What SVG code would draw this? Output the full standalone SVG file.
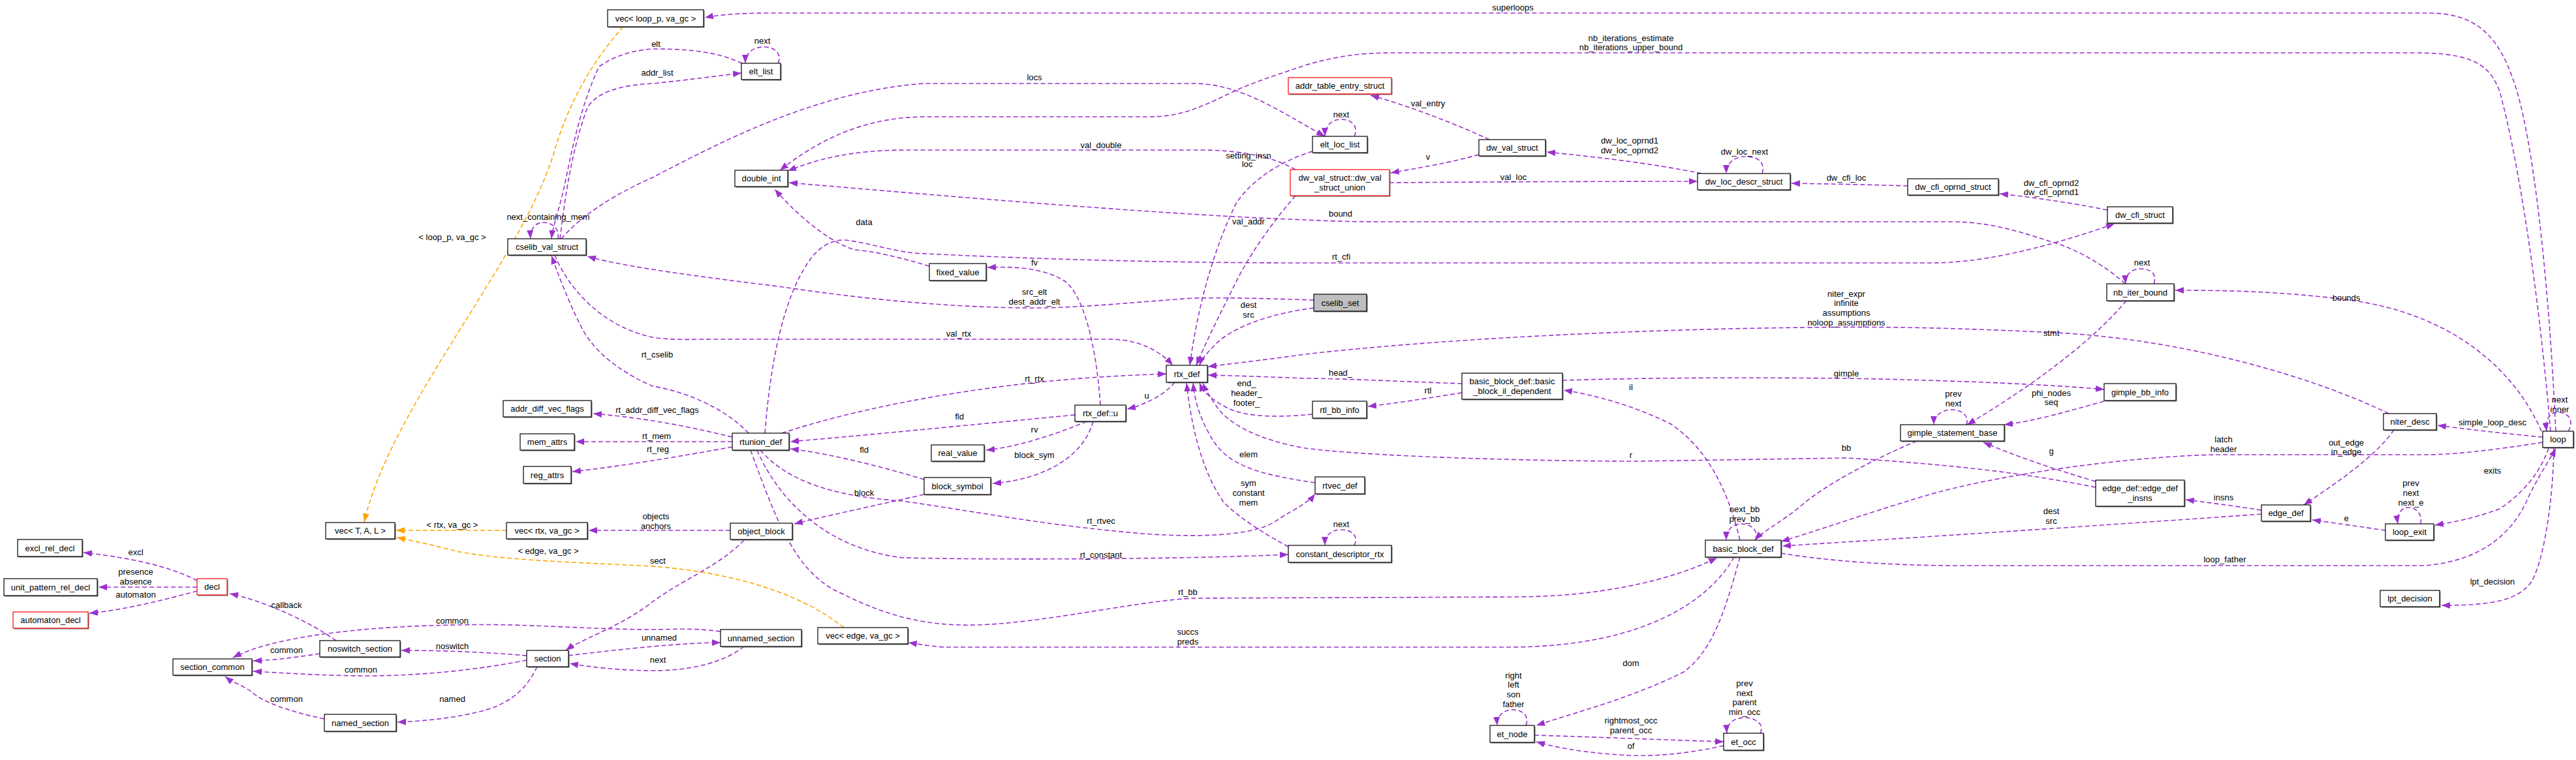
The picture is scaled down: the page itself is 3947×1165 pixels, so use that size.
<svg xmlns="http://www.w3.org/2000/svg" width="3947" height="1165" viewBox="0 0 3947 1165">
<defs>
<marker id="ap" markerUnits="userSpaceOnUse" markerWidth="14" markerHeight="10" refX="13" refY="5" orient="auto"><path d="M0,0 L13,5 L0,10 z" fill="#9a32cd" stroke="none"/></marker>
<marker id="ao" markerUnits="userSpaceOnUse" markerWidth="14" markerHeight="10" refX="13" refY="5" orient="auto"><path d="M0,0 L13,5 L0,10 z" fill="#ffa500" stroke="none"/></marker>
<style>
.s{fill:#707070;stroke:none}
.b{fill:#fff;stroke:#000;stroke-width:1.2}
.r{fill:#fff;stroke:#ff0000;stroke-width:1.2}
.g{fill:#bfbfbf;stroke:#000;stroke-width:1.2}
text{font-family:"Liberation Sans",Arial,sans-serif;font-size:13px;text-anchor:middle;fill:#000}
.e path{fill:none;stroke:#9a32cd;stroke-width:1.6;stroke-dasharray:7,4;marker-end:url(#ap)}
.e path.o{stroke:#ffa500;marker-end:url(#ao)}
</style>
</defs>
<rect width="3947" height="1165" fill="#fff"/>

<g id="connectors" class="e">
<path d="M3916,661 C3905,420 3880,200 3850,120 C3825,50 3790,20 3720,20 L1180,20 C1130,20 1100,23 1080,27"/>
<path d="M3908,661 C3890,450 3860,250 3830,140 C3815,100 3790,81 3700,81 L2130,81 C2080,81 2040,88 2000,100 C1940,120 1910,130 1880,145 C1830,170 1800,179 1760,179 L1420,179 C1330,179 1260,210 1195,261"/>
<path d="M860,366 C900,320 960,290 1000,272 C1100,220 1250,140 1415,128 L1829,128 C1900,128 1960,170 2030,209"/>
<path d="M1137,97 C1100,80 1060,75 1000,75 C960,78 935,90 918,102 C895,150 880,210 868,270 C858,320 847,345 845,366"/>
<path d="M858,366 C866,300 876,230 900,165 C915,140 955,130 1000,128 C1060,122 1100,116 1136,112"/>
<path d="M855,366 C858,350 845,341 832,341 C820,341 812,352 813,366"/>
<path d="M1192,97 C1198,85 1190,72 1170,72 C1150,72 1142,85 1142,97"/>
<path d="M2075,209 C2082,195 2072,183 2055,183 C2038,183 2030,195 2030,209"/>
<path d="M1985,260 C1950,240 1900,230 1840,230 L1390,230 C1300,230 1250,245 1207,262"/>
<path d="M2282,214 C2220,185 2150,160 2100,146"/>
<path d="M2266,237 C2220,250 2170,258 2131,265"/>
<path d="M2129,280 C2250,279 2450,278 2601,278"/>
<path d="M2607,266 C2530,250 2440,240 2370,233"/>
<path d="M2700,266 C2705,250 2695,240 2675,240 C2655,240 2645,252 2645,266"/>
<path d="M2923,285 C2870,283 2800,282 2745,281"/>
<path d="M3229,322 C3170,310 3110,302 3064,297"/>
<path d="M1172,664 C1180,560 1200,450 1245,393 C1260,375 1278,367 1295,368 C1330,372 1360,383 1400,388 C1600,398 1800,403 2000,403 L2960,403 C3030,403 3120,385 3240,343"/>
<path d="M3256,435 C3230,410 3180,380 3141,370 C3080,350 3040,340 2990,340 L2130,340 C2060,340 2020,338 2000,337 C1800,330 1500,305 1209,280"/>
<path d="M1424,408 C1380,395 1340,385 1310,383 C1280,375 1230,340 1187,290"/>
<path d="M2013,460 C1950,458 1900,456 1829,457 C1750,462 1680,470 1600,472 C1450,473 1300,455 1200,440 C1080,425 960,410 900,393"/>
<path d="M2013,472 C1950,480 1890,500 1862,528 C1850,541 1841,550 1838,560"/>
<path d="M850,391 C870,440 920,500 1000,517 C1030,522 1060,520 1100,520 L1700,520 C1740,520 1775,535 1797,560"/>
<path d="M1147,664 C1110,625 1050,600 1000,592 C950,570 910,540 890,500 C870,460 855,420 845,392"/>
<path d="M2011,232 C1960,248 1920,275 1895,310 C1860,380 1835,470 1823,560"/>
<path d="M1985,300 C1950,340 1915,390 1895,430 C1870,480 1845,530 1833,560"/>
<path d="M1198,664 C1300,630 1450,600 1600,585 C1680,577 1740,575 1787,573"/>
<path d="M1800,586 C1785,605 1755,620 1727,627"/>
<path d="M3660,634 C3550,580 3350,520 3150,510 C3000,503 2900,500 2765,502 C2500,505 2200,520 2000,543 C1950,550 1900,556 1851,562"/>
<path d="M2240,588 C2150,585 2050,580 2000,580 C1950,578 1900,576 1851,575"/>
<path d="M2011,635 C1960,640 1910,640 1880,625 C1855,612 1843,600 1838,587"/>
<path d="M2015,740 C1950,730 1890,720 1862,680 C1842,650 1831,620 1828,587"/>
<path d="M3211,747 C3100,725 3000,713 2830,702 L2510,707 C2350,707 2100,700 2000,687 C1930,675 1880,650 1862,620 C1852,605 1846,595 1843,587"/>
<path d="M1974,838 C1940,820 1900,795 1875,770 C1840,720 1825,650 1818,587"/>
<path d="M1647,636 C1500,650 1350,665 1211,677"/>
<path d="M1665,646 C1620,665 1560,685 1511,690"/>
<path d="M1675,646 C1660,700 1600,735 1521,741"/>
<path d="M1686,621 C1680,530 1660,450 1630,430 C1600,412 1560,408 1513,410"/>
<path d="M1416,735 C1350,715 1270,695 1211,688"/>
<path d="M1416,758 C1340,775 1270,790 1217,803"/>
<path d="M1165,690 C1200,730 1260,760 1383,768 C1500,785 1600,805 1750,818 C1850,825 1930,820 1960,795 C1985,780 2005,770 2015,757"/>
<path d="M1160,690 C1190,760 1260,840 1383,855 C1500,858 1800,858 1974,850"/>
<path d="M1150,690 C1190,800 1220,880 1290,910 C1360,945 1420,960 1497,958 C1600,955 1750,920 1829,917 L2319,915 C2450,915 2560,890 2631,855"/>
<path d="M2657,854 C2620,920 2520,990 2319,992 L1446,992 C1420,990 1405,987 1392,985"/>
<path d="M2666,854 C2640,950 2620,1000 2580,1030 C2500,1070 2420,1090 2354,1112"/>
<path d="M2666,828 C2650,760 2620,690 2560,650 C2500,620 2440,605 2396,598"/>
<path d="M2690,828 C2695,810 2680,803 2668,803 C2655,803 2645,812 2645,828"/>
<path d="M2937,676 C2880,700 2800,740 2760,775 C2730,800 2700,815 2689,828"/>
<path d="M3896,678 C3820,690 3760,697 3715,697 L3396,697 C3250,700 3050,730 2950,760 C2850,790 2780,815 2729,830"/>
<path d="M3465,788 C3300,800 3000,820 2731,837"/>
<path d="M2729,848 C2800,860 2900,867 3000,867 L3715,867 C3800,860 3850,820 3875,760 C3895,720 3910,700 3916,687"/>
<path d="M3913,687 C3912,760 3900,850 3880,890 C3860,920 3820,928 3741,928"/>
<path d="M3905,687 C3890,730 3860,760 3830,780 C3790,795 3760,800 3731,805"/>
<path d="M3709,803 C3712,785 3700,778 3690,778 C3678,778 3672,790 3674,803"/>
<path d="M3655,813 C3620,808 3580,802 3543,797"/>
<path d="M3668,659 C3640,700 3580,740 3530,774"/>
<path d="M3465,782 C3420,775 3380,770 3349,766"/>
<path d="M3211,738 C3150,720 3090,700 3039,678"/>
<path d="M3896,670 C3840,665 3780,658 3735,652"/>
<path d="M3894,661 C3850,560 3750,480 3600,460 C3500,447 3420,445 3333,445"/>
<path d="M3935,661 C3945,645 3935,632 3920,632 C3905,632 3900,645 3902,661"/>
<path d="M3300,435 C3306,420 3295,412 3280,412 C3265,412 3256,422 3257,435"/>
<path d="M3258,461 C3200,530 3100,600 3014,651"/>
<path d="M3013,651 C3018,637 3005,628 2990,628 C2975,628 2963,638 2963,651"/>
<path d="M3224,615 C3170,630 3120,645 3071,651"/>
<path d="M2394,583 C2500,580 2600,578 2829,580 C3000,583 3150,590 3224,597"/>
<path d="M2240,602 C2190,610 2140,618 2096,623"/>
<path d="M1119,813 L902,813"/>
<path d="M1140,828 C1100,870 1040,890 990,930 C940,965 890,980 867,997"/>
<path d="M807,1005 C750,1000 680,997 615,997"/>
<path d="M871,1005 C950,995 1050,985 1104,985"/>
<path d="M1140,991 C1110,1015 1060,1028 1000,1028 C950,1028 900,1022 873,1017"/>
<path d="M1104,968 C1060,962 1030,965 1000,965 C900,965 800,955 700,958 C560,960 420,975 357,1008"/>
<path d="M490,1002 C450,1008 420,1012 388,1013"/>
<path d="M807,1012 C740,1025 660,1035 570,1036 C500,1036 440,1032 388,1029"/>
<path d="M497,1102 C440,1090 400,1075 385,1060 C370,1050 355,1045 345,1037"/>
<path d="M823,1022 C810,1050 790,1070 760,1083 C720,1098 660,1105 609,1107"/>
<path d="M515,982 C470,950 400,920 352,910"/>
<path d="M302,890 C260,868 200,855 128,847"/>
<path d="M302,900 L151,900"/>
<path d="M302,906 C250,920 190,935 137,940"/>
<path d="M1122,670 C1060,655 1000,642 909,634"/>
<path d="M1122,677 L882,677"/>
<path d="M1122,685 C1040,700 950,715 877,723"/>
<path d="M2075,836 C2082,822 2072,812 2055,812 C2038,812 2030,822 2030,836"/>
<path d="M2338,1112 C2344,1098 2333,1088 2318,1088 C2303,1088 2293,1098 2294,1112"/>
<path d="M2697,1124 C2704,1110 2690,1100 2673,1100 C2656,1100 2645,1110 2646,1124"/>
<path d="M2351,1127 C2450,1130 2550,1134 2641,1137"/>
<path d="M2641,1143 C2600,1152 2550,1160 2497,1158 C2440,1155 2390,1148 2354,1137"/>
<path class="o" d="M955,41 C910,90 870,160 850,230 C800,400 600,620 558,800"/>
<path class="o" d="M776,813 L607,813"/>
<path class="o" d="M1293,962 C1240,920 1150,880 1000,868 C880,862 760,858 700,845 C660,835 630,828 608,824"/>
</g>

<g id="labels">
<text x="2318" y="16">superloops</text>
<text x="2499" y="63">nb_iterations_estimate</text>
<text x="2499" y="77">nb_iterations_upper_bound</text>
<text x="1005" y="72">elt</text>
<text x="1168" y="67">next</text>
<text x="1007" y="116">addr_list</text>
<text x="1585" y="123">locs</text>
<text x="2188" y="163">val_entry</text>
<text x="2055" y="180">next</text>
<text x="2497" y="220">dw_loc_oprnd1</text>
<text x="2497" y="235">dw_loc_oprnd2</text>
<text x="2673" y="237">dw_loc_next</text>
<text x="1687" y="227">val_double</text>
<text x="1913" y="243">setting_insn</text>
<text x="1911" y="256">loc</text>
<text x="2188" y="245">v</text>
<text x="2319" y="276">val_loc</text>
<text x="2829" y="277">dw_cfi_loc</text>
<text x="3143" y="285">dw_cfi_oprnd2</text>
<text x="3143" y="299">dw_cfi_oprnd1</text>
<text x="2054" y="332">bound</text>
<text x="1324" y="345">data</text>
<text x="1913" y="344">val_addr</text>
<text x="840" y="337">next_containing_mem</text>
<text x="693" y="368">&lt; loop_p, va_gc &gt;</text>
<text x="2055" y="398">rt_cfi</text>
<text x="1585" y="407">fv</text>
<text x="3282" y="407">next</text>
<text x="1585" y="452">src_elt</text>
<text x="1585" y="467">dest_addr_elt</text>
<text x="2829" y="455">niter_expr</text>
<text x="2829" y="469">infinite</text>
<text x="2829" y="484">assumptions</text>
<text x="2829" y="499">noloop_assumptions</text>
<text x="3595" y="461">bounds</text>
<text x="1913" y="472">dest</text>
<text x="1913" y="487">src</text>
<text x="3143" y="515">stmt</text>
<text x="1469" y="516">val_rtx</text>
<text x="1007" y="548">rt_cselib</text>
<text x="2054" y="576">head_</text>
<text x="2829" y="577">gimple</text>
<text x="1585" y="585">rt_rtx</text>
<text x="1910" y="592">end_</text>
<text x="1910" y="607">header_</text>
<text x="1910" y="622">footer_</text>
<text x="2499" y="598">il</text>
<text x="2188" y="603">rtl</text>
<text x="3143" y="607">phi_nodes</text>
<text x="3143" y="621">seq</text>
<text x="2993" y="608">prev</text>
<text x="2993" y="623">next</text>
<text x="1757" y="611">u</text>
<text x="3922" y="617">next</text>
<text x="3922" y="632">inner</text>
<text x="1007" y="633">rt_addr_diff_vec_flags</text>
<text x="1470" y="643">fld</text>
<text x="3819" y="652">simple_loop_desc</text>
<text x="1585" y="663">rv</text>
<text x="1006" y="673">rt_mem</text>
<text x="3407" y="678">latch</text>
<text x="3407" y="693">header</text>
<text x="3595" y="683">out_edge</text>
<text x="3595" y="697">in_edge</text>
<text x="2829" y="691">bb</text>
<text x="1008" y="693">rt_reg</text>
<text x="1324" y="694">fld</text>
<text x="3143" y="696">g</text>
<text x="1913" y="701">elem</text>
<text x="2499" y="702">r</text>
<text x="1585" y="702">block_sym</text>
<text x="3819" y="726">exits</text>
<text x="1913" y="745">sym</text>
<text x="1913" y="760">constant</text>
<text x="1913" y="775">mem</text>
<text x="3694" y="745">prev</text>
<text x="3694" y="760">next</text>
<text x="3694" y="775">next_e</text>
<text x="1324" y="760">block</text>
<text x="3407" y="767">insns</text>
<text x="2673" y="785">next_bb</text>
<text x="2673" y="800">prev_bb</text>
<text x="3143" y="788">dest</text>
<text x="3143" y="803">src</text>
<text x="1005" y="796">objects</text>
<text x="1005" y="811">anchors</text>
<text x="3595" y="799">e</text>
<text x="1687" y="803">rt_rtvec</text>
<text x="2055" y="808">next</text>
<text x="693" y="809">&lt; rtx, va_gc &gt;</text>
<text x="840" y="849">&lt; edge, va_gc &gt;</text>
<text x="208" y="851">excl</text>
<text x="1687" y="855">rt_constant</text>
<text x="3409" y="862">loop_father</text>
<text x="1008" y="864">sect</text>
<text x="208" y="881">presence</text>
<text x="208" y="896">absence</text>
<text x="3819" y="896">lpt_decision</text>
<text x="1820" y="912">rt_bb</text>
<text x="208" y="916">automaton</text>
<text x="439" y="932">callback</text>
<text x="693" y="956">common</text>
<text x="1820" y="973">succs</text>
<text x="1820" y="988">preds</text>
<text x="1010" y="982">unnamed</text>
<text x="693" y="995">noswitch</text>
<text x="439" y="1001">common</text>
<text x="1008" y="1016">next</text>
<text x="2499" y="1021">dom</text>
<text x="553" y="1031">common</text>
<text x="2319" y="1040">right</text>
<text x="2319" y="1054">left</text>
<text x="2319" y="1069">son</text>
<text x="2319" y="1084">father</text>
<text x="2673" y="1052">prev</text>
<text x="2673" y="1067">next</text>
<text x="2673" y="1081">parent</text>
<text x="2673" y="1096">min_occ</text>
<text x="439" y="1076">common</text>
<text x="693" y="1076">named</text>
<text x="2499" y="1109">rightmost_occ</text>
<text x="2499" y="1124">parent_occ</text>
<text x="2499" y="1148">of</text>
</g>

<g id="n_vec_loop"><rect class="s" x="932.5" y="16.5" width="147" height="26"/><rect class="b" x="931" y="15" width="147" height="26"/><text x="1004.5" y="32.5">vec&lt; loop_p, va_gc &gt;</text></g>
<g id="n_elt_list"><rect class="s" x="1137.5" y="98.5" width="60" height="25"/><rect class="b" x="1136" y="97" width="60" height="25"/><text x="1166" y="114">elt_list</text></g>
<g id="n_cselib_val_struct"><rect class="s" x="779.5" y="367.5" width="120" height="25"/><rect class="b" x="778" y="366" width="120" height="25"/><text x="838" y="383">cselib_val_struct</text></g>
<g id="n_double_int"><rect class="s" x="1127.5" y="262.5" width="81" height="25"/><rect class="b" x="1126" y="261" width="81" height="25"/><text x="1166.5" y="278">double_int</text></g>
<g id="n_addr_table_entry_struct"><rect class="s" x="1975.5" y="120.5" width="158" height="25"/><rect class="r" x="1974" y="119" width="158" height="25"/><text x="2053" y="136">addr_table_entry_struct</text></g>
<g id="n_elt_loc_list"><rect class="s" x="2012.5" y="210.5" width="84" height="25"/><rect class="b" x="2011" y="209" width="84" height="25"/><text x="2053" y="226">elt_loc_list</text></g>
<g id="n_dw_val_struct"><rect class="s" x="2267.5" y="215.5" width="102" height="25"/><rect class="b" x="2266" y="214" width="102" height="25"/><text x="2317" y="231">dw_val_struct</text></g>
<g id="n_dw_val_union"><rect class="s" x="1978.5" y="261.5" width="152" height="40"/><rect class="r" x="1977" y="260" width="152" height="40"/><text x="2053" y="277">dw_val_struct::dw_val</text><text x="2053" y="292">_struct_union</text></g>
<g id="n_dw_loc_descr_struct"><rect class="s" x="2602.5" y="267.5" width="142" height="25"/><rect class="b" x="2601" y="266" width="142" height="25"/><text x="2672" y="283">dw_loc_descr_struct</text></g>
<g id="n_dw_cfi_oprnd_struct"><rect class="s" x="2924.5" y="275.5" width="139" height="25"/><rect class="b" x="2923" y="274" width="139" height="25"/><text x="2992.5" y="291">dw_cfi_oprnd_struct</text></g>
<g id="n_dw_cfi_struct"><rect class="s" x="3230.5" y="318.5" width="100" height="25"/><rect class="b" x="3229" y="317" width="100" height="25"/><text x="3279" y="334">dw_cfi_struct</text></g>
<g id="n_fixed_value"><rect class="s" x="1425.5" y="405.5" width="87" height="26"/><rect class="b" x="1424" y="404" width="87" height="26"/><text x="1467.5" y="421.5">fixed_value</text></g>
<g id="n_cselib_set"><rect class="s" x="2014.5" y="452.5" width="81" height="26"/><rect class="g" x="2013" y="451" width="81" height="26"/><text x="2053.5" y="468.5">cselib_set</text></g>
<g id="n_nb_iter_bound"><rect class="s" x="3229.5" y="436.5" width="103" height="26"/><rect class="b" x="3228" y="435" width="103" height="26"/><text x="3279.5" y="452.5">nb_iter_bound</text></g>
<g id="n_rtx_def"><rect class="s" x="1788.5" y="561.5" width="63" height="26"/><rect class="b" x="1787" y="560" width="63" height="26"/><text x="1818.5" y="577.5">rtx_def</text></g>
<g id="n_addr_diff_vec_flags"><rect class="s" x="772.5" y="615.5" width="135" height="25"/><rect class="b" x="771" y="614" width="135" height="25"/><text x="838.5" y="631">addr_diff_vec_flags</text></g>
<g id="n_rtx_def_u"><rect class="s" x="1648.5" y="622.5" width="78" height="25"/><rect class="b" x="1647" y="621" width="78" height="25"/><text x="1686" y="638">rtx_def::u</text></g>
<g id="n_bb_il_dependent"><rect class="s" x="2241.5" y="573.5" width="154" height="40"/><rect class="b" x="2240" y="572" width="154" height="40"/><text x="2317" y="589">basic_block_def::basic</text><text x="2317" y="604">_block_il_dependent</text></g>
<g id="n_gimple_bb_info"><rect class="s" x="3225.5" y="589.5" width="110" height="26"/><rect class="b" x="3224" y="588" width="110" height="26"/><text x="3279" y="605.5">gimple_bb_info</text></g>
<g id="n_rtl_bb_info"><rect class="s" x="2012.5" y="616.5" width="83" height="26"/><rect class="b" x="2011" y="615" width="83" height="26"/><text x="2052.5" y="632.5">rtl_bb_info</text></g>
<g id="n_gimple_statement_base"><rect class="s" x="2913.5" y="652.5" width="159" height="25"/><rect class="b" x="2912" y="651" width="159" height="25"/><text x="2991.5" y="668">gimple_statement_base</text></g>
<g id="n_niter_desc"><rect class="s" x="3653.5" y="635.5" width="81" height="25"/><rect class="b" x="3652" y="634" width="81" height="25"/><text x="3692.5" y="651">niter_desc</text></g>
<g id="n_loop"><rect class="s" x="3897.5" y="662.5" width="47" height="25"/><rect class="b" x="3896" y="661" width="47" height="25"/><text x="3919.5" y="678">loop</text></g>
<g id="n_mem_attrs"><rect class="s" x="798.5" y="666.5" width="83" height="25"/><rect class="b" x="797" y="665" width="83" height="25"/><text x="838.5" y="682">mem_attrs</text></g>
<g id="n_rtunion_def"><rect class="s" x="1123.5" y="665.5" width="87" height="26"/><rect class="b" x="1122" y="664" width="87" height="26"/><text x="1165.5" y="681.5">rtunion_def</text></g>
<g id="n_real_value"><rect class="s" x="1428.5" y="683.5" width="81" height="25"/><rect class="b" x="1427" y="682" width="81" height="25"/><text x="1467.5" y="699">real_value</text></g>
<g id="n_reg_attrs"><rect class="s" x="803.5" y="716.5" width="73" height="26"/><rect class="b" x="802" y="715" width="73" height="26"/><text x="838.5" y="732.5">reg_attrs</text></g>
<g id="n_block_symbol"><rect class="s" x="1417.5" y="733.5" width="102" height="26"/><rect class="b" x="1416" y="732" width="102" height="26"/><text x="1467" y="749.5">block_symbol</text></g>
<g id="n_rtvec_def"><rect class="s" x="2016.5" y="732.5" width="76" height="26"/><rect class="b" x="2015" y="731" width="76" height="26"/><text x="2053" y="748.5">rtvec_def</text></g>
<g id="n_edge_def_insns"><rect class="s" x="3212.5" y="737.5" width="136" height="40"/><rect class="b" x="3211" y="736" width="136" height="40"/><text x="3279" y="753">edge_def::edge_def</text><text x="3279" y="768">_insns</text></g>
<g id="n_edge_def"><rect class="s" x="3466.5" y="775.5" width="75" height="25"/><rect class="b" x="3465" y="774" width="75" height="25"/><text x="3502.5" y="791">edge_def</text></g>
<g id="n_loop_exit"><rect class="s" x="3656.5" y="804.5" width="74" height="25"/><rect class="b" x="3655" y="803" width="74" height="25"/><text x="3692" y="820">loop_exit</text></g>
<g id="n_vec_T"><rect class="s" x="500.5" y="802.5" width="106" height="25"/><rect class="b" x="499" y="801" width="106" height="25"/><text x="552" y="818">vec&lt; T, A, L &gt;</text></g>
<g id="n_vec_rtx"><rect class="s" x="777.5" y="802.5" width="124" height="25"/><rect class="b" x="776" y="801" width="124" height="25"/><text x="838" y="818">vec&lt; rtx, va_gc &gt;</text></g>
<g id="n_object_block"><rect class="s" x="1120.5" y="803.5" width="95" height="25"/><rect class="b" x="1119" y="802" width="95" height="25"/><text x="1166.5" y="819">object_block</text></g>
<g id="n_basic_block_def"><rect class="s" x="2614.5" y="829.5" width="116" height="26"/><rect class="b" x="2613" y="828" width="116" height="26"/><text x="2671" y="845.5">basic_block_def</text></g>
<g id="n_constant_descriptor_rtx"><rect class="s" x="1975.5" y="837.5" width="158" height="26"/><rect class="b" x="1974" y="836" width="158" height="26"/><text x="2053" y="853.5">constant_descriptor_rtx</text></g>
<g id="n_excl_rel_decl"><rect class="s" x="28.5" y="828.5" width="99" height="26"/><rect class="b" x="27" y="827" width="99" height="26"/><text x="76.5" y="844.5">excl_rel_decl</text></g>
<g id="n_unit_pattern_rel_decl"><rect class="s" x="7.5" y="888.5" width="143" height="26"/><rect class="b" x="6" y="887" width="143" height="26"/><text x="77.5" y="904.5">unit_pattern_rel_decl</text></g>
<g id="n_decl"><rect class="s" x="303.5" y="888.5" width="46" height="25"/><rect class="r" x="302" y="887" width="46" height="25"/><text x="325" y="904">decl</text></g>
<g id="n_automaton_decl"><rect class="s" x="21.5" y="939.5" width="115" height="25"/><rect class="r" x="20" y="938" width="115" height="25"/><text x="77.5" y="955">automaton_decl</text></g>
<g id="n_lpt_decision"><rect class="s" x="3648.5" y="906.5" width="91" height="25"/><rect class="b" x="3647" y="905" width="91" height="25"/><text x="3692.5" y="922">lpt_decision</text></g>
<g id="n_vec_edge"><rect class="s" x="1254.5" y="963.5" width="138" height="25"/><rect class="b" x="1253" y="962" width="138" height="25"/><text x="1322" y="979">vec&lt; edge, va_gc &gt;</text></g>
<g id="n_unnamed_section"><rect class="s" x="1105.5" y="966.5" width="124" height="26"/><rect class="b" x="1104" y="965" width="124" height="26"/><text x="1166" y="982.5">unnamed_section</text></g>
<g id="n_noswitch_section"><rect class="s" x="491.5" y="983.5" width="123" height="25"/><rect class="b" x="490" y="982" width="123" height="25"/><text x="551.5" y="999">noswitch_section</text></g>
<g id="n_section"><rect class="s" x="808.5" y="998.5" width="64" height="25"/><rect class="b" x="807" y="997" width="64" height="25"/><text x="839" y="1014">section</text></g>
<g id="n_section_common"><rect class="s" x="266.5" y="1011.5" width="121" height="25"/><rect class="b" x="265" y="1010" width="121" height="25"/><text x="325.5" y="1027">section_common</text></g>
<g id="n_named_section"><rect class="s" x="498.5" y="1096.5" width="110" height="26"/><rect class="b" x="497" y="1095" width="110" height="26"/><text x="552" y="1112.5">named_section</text></g>
<g id="n_et_node"><rect class="s" x="2284.5" y="1113.5" width="68" height="26"/><rect class="b" x="2283" y="1112" width="68" height="26"/><text x="2317" y="1129.5">et_node</text></g>
<g id="n_et_occ"><rect class="s" x="2642.5" y="1125.5" width="61" height="26"/><rect class="b" x="2641" y="1124" width="61" height="26"/><text x="2671.5" y="1141.5">et_occ</text></g>
</svg>
